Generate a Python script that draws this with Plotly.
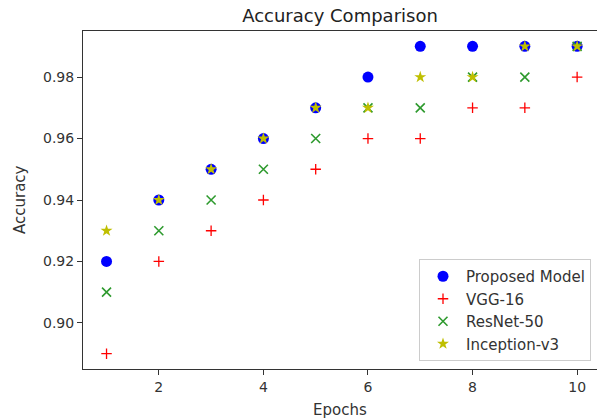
import plotly.graph_objects as go

epochs = [1, 2, 3, 4, 5, 6, 7, 8, 9, 10]
proposed = [0.92, 0.94, 0.95, 0.96, 0.97, 0.98, 0.99, 0.99, 0.99, 0.99]
vgg16 = [0.89, 0.92, 0.93, 0.94, 0.95, 0.96, 0.96, 0.97, 0.97, 0.98]
resnet50 = [0.91, 0.93, 0.94, 0.95, 0.96, 0.97, 0.97, 0.98, 0.98, 0.99]
inception = [0.93, 0.94, 0.95, 0.96, 0.97, 0.97, 0.98, 0.98, 0.99, 0.99]

x_ticks = [2, 4, 6, 8, 10]
y_ticks = [0.90, 0.92, 0.94, 0.96, 0.98]

font = "DejaVu Sans"
W, H = 597, 419
L, R, T, B = 83, 0, 31, 50
pw = W - L - R
ph = H - T - B

fig = go.Figure()
fig.add_trace(go.Scatter(x=epochs, y=proposed, mode="markers", name="Proposed Model",
                         marker=dict(symbol="circle", size=11, color="#0000ff", line=dict(width=0))))
fig.add_trace(go.Scatter(x=epochs, y=vgg16, mode="markers", name="VGG-16",
                         marker=dict(symbol="cross-thin", size=7.5, color="#ff0000",
                                     line=dict(width=1.3, color="#ff0000"))))
fig.add_trace(go.Scatter(x=epochs, y=resnet50, mode="markers", name="ResNet-50",
                         marker=dict(symbol="x-thin", size=9, color="#2e9a2e",
                                     line=dict(width=1.6, color="#2e9a2e"))))
fig.add_trace(go.Scatter(x=epochs, y=inception, mode="markers", name="Inception-v3",
                         marker=dict(symbol="star", size=9, color="#bfbf00", line=dict(width=0))))

fig.update_layout(
    width=W, height=H,
    margin=dict(l=L, r=R, t=T, b=B),
    paper_bgcolor="white", plot_bgcolor="white",
    font=dict(family=font, size=14, color="#333333"),
    title=dict(text="Accuracy Comparison", x=340 / W, xanchor="center",
               y=1 - 16 / H, yanchor="middle", font=dict(size=18, color="#222222")),
    showlegend=True,
    legend=dict(x=(591 - L) / pw, xanchor="right", y=(369 - 361) / ph, yanchor="bottom",
                bgcolor="rgba(255,255,255,0.85)", bordercolor="#cccccc", borderwidth=1,
                itemwidth=36, font=dict(size=15, color="#333333")),
    annotations=[
        dict(text="Accuracy", xref="paper", yref="paper", x=(20 - L) / pw, y=0.5,
             xanchor="center", yanchor="middle", textangle=-90, showarrow=False,
             font=dict(size=15, color="#333333")),
        dict(text="Epochs", xref="paper", yref="paper", x=(340 - L) / pw, y=(369 - 410) / ph,
             xanchor="center", yanchor="middle", showarrow=False,
             font=dict(size=15, color="#333333")),
    ],
)
fig.update_xaxes(range=[0.55, 10.38], tickvals=x_ticks, ticks="outside", ticklen=5,
                 tickcolor="#333333", showline=True, linecolor="#333333", linewidth=1,
                 mirror=True, showgrid=False, zeroline=False)
fig.update_yaxes(range=[0.885, 0.995], tickvals=y_ticks, tickformat=".2f", ticks="outside",
                 ticklen=5, tickcolor="#333333", showline=True, linecolor="#333333",
                 linewidth=1, mirror=False, showgrid=False, zeroline=False)

fig.write_html("out.html")
